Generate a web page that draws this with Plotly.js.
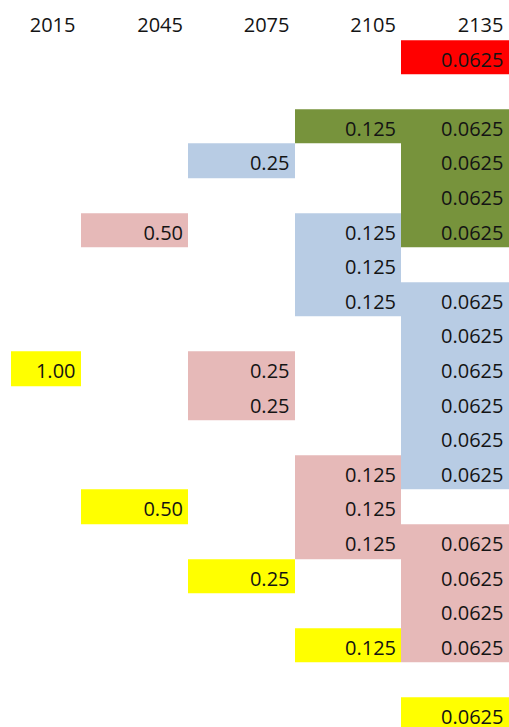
<!DOCTYPE html>
<html>
<head>
<meta charset="utf-8">
<script src="https://cdn.plot.ly/plotly-3.0.1.min.js"></script>
<style>html,body{margin:0;padding:0;background:#fff;}#chart{width:509px;height:727px;}</style>
</head>
<body>
<div id="chart"></div>
<script>
// ---- data ----
var years = ["2015", "2045", "2075", "2105", "2135"];
// each cell: column index (into years), row index (1 = first row under header), shown value, colour group
var cellCol   = [4, 3, 4, 2, 4, 4, 1, 3, 4, 3, 3, 4, 4, 0, 2, 4, 2, 4, 4, 3, 4, 1, 3, 3, 4, 2, 4, 4, 3, 4, 4];
var cellRow   = [1, 3, 3, 4, 4, 5, 6, 6, 6, 7, 8, 8, 9, 10, 10, 10, 11, 11, 12, 13, 13, 14, 14, 15, 15, 16, 16, 17, 18, 18, 20];
var cellValue = ["0.0625", "0.125", "0.0625", "0.25", "0.0625", "0.0625", "0.50", "0.125", "0.0625", "0.125",
                 "0.125", "0.0625", "0.0625", "1.00", "0.25", "0.0625", "0.25", "0.0625", "0.0625", "0.125",
                 "0.0625", "0.50", "0.125", "0.125", "0.0625", "0.25", "0.0625", "0.0625", "0.125", "0.0625", "0.0625"];
var cellGroup = ["red", "green", "green", "blue", "green", "green", "pink", "blue", "green", "blue",
                 "blue", "blue", "blue", "yellow", "pink", "blue", "pink", "blue", "blue", "pink",
                 "blue", "yellow", "pink", "pink", "pink", "yellow", "pink", "pink", "yellow", "pink", "yellow"];

// ---- styles / layout ----
var groups = ["red", "green", "blue", "pink", "yellow"];
var groupColors = ["#FF0000", "#77933C", "#B8CCE4", "#E6B9B8", "#FFFF00"];
var colEdges = [11, 80.5, 188, 294.5, 401, 508.5];   // spreadsheet column boundaries
var nRows = 20;
var pad = 5;
var textColor = "#141414";
var font = "'Open Sans', 'Liberation Sans', sans-serif";
var fontSize = 20;
var textDrop = 0.63;   // text sits slightly below the row middle

// build heatmap matrix
var z = [];
for (var r = 0; r <= nRows; r++) {
  var rowArr = [];
  for (var c = 0; c < years.length; c++) rowArr.push(null);
  z.push(rowArr);
}
for (var i = 0; i < cellCol.length; i++) {
  z[cellRow[i]][cellCol[i]] = groups.indexOf(cellGroup[i]);
}
var yEdges = [];
for (var r2 = 0; r2 <= nRows + 1; r2++) yEdges.push(r2);

var n = groups.length;
var colorscale = [];
for (var g = 0; g < n; g++) {
  colorscale.push([g / n, groupColors[g]]);
  colorscale.push([(g + 1) / n, groupColors[g]]);
}

var heat = {
  type: "heatmap",
  x: colEdges,
  y: yEdges,
  z: z,
  zmin: -0.5,
  zmax: n - 0.5,
  colorscale: colorscale,
  showscale: false,
  xgap: 0, ygap: 0,
  hoverinfo: "skip"
};

var tx = [], ty = [];
for (var k = 0; k < cellCol.length; k++) {
  tx.push(colEdges[cellCol[k] + 1] - pad);
  ty.push(cellRow[k] + textDrop);
}
var cellText = {
  type: "scatter",
  mode: "text",
  x: tx,
  y: ty,
  text: cellValue,
  textposition: "middle left",
  textfont: {family: font, size: fontSize, color: textColor},
  cliponaxis: false,
  hoverinfo: "skip"
};

var hx = [], hy = [];
for (var h = 0; h < years.length; h++) {
  hx.push(colEdges[h + 1] - pad);
  hy.push(textDrop);
}
var header = {
  type: "scatter",
  mode: "text",
  x: hx,
  y: hy,
  text: years,
  textposition: "middle left",
  textfont: {family: font, size: fontSize, color: textColor},
  hoverinfo: "skip"
};

var rowH = 34.6, top0 = 5.2, H = 727, W = 509;
var layout = {
  width: W, height: H,
  margin: {l: 0, r: 0, t: 0, b: 0},
  paper_bgcolor: "#ffffff",
  plot_bgcolor: "#ffffff",
  showlegend: false,
  xaxis: {range: [0, W], visible: false, fixedrange: true},
  yaxis: {range: [(H - top0) / rowH, -top0 / rowH], visible: false, fixedrange: true}
};

Plotly.newPlot("chart", [heat, cellText, header], layout, {displayModeBar: false, staticPlot: true});
</script>
</body>
</html>
